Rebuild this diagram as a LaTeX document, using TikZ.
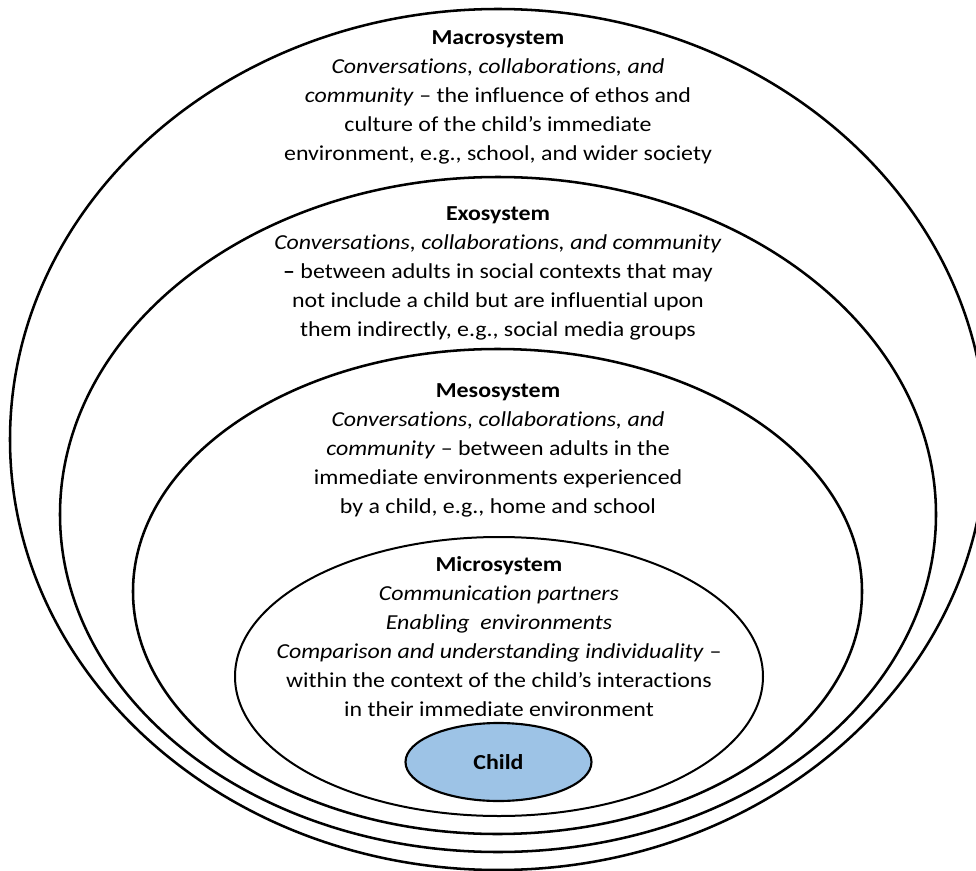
\documentclass[tikz,border=0pt]{standalone}
\usepackage{fontspec}
\setmainfont{Carlito}[FakeStretch=1.12, Ligatures=NoCommon]
\usetikzlibrary{shapes.geometric}
\definecolor{childblue}{RGB}{157,195,230}
\begin{document}
\begin{tikzpicture}[x=0.75pt,y=-0.75pt,
  ring/.style={draw=black, ellipse, line width=1.9pt, inner sep=0pt},
  blocktext/.style={align=center, font=\fontsize{16}{21.75}\selectfont, inner sep=0pt}]
\useasboundingbox (0,0) rectangle (976,871);
\fill[white] (0,0) rectangle (976,871);
\begin{scope}
  \clip (0,0) rectangle (976,871);
  % nested systems, outermost first
  \node[ring, minimum width=732pt, minimum height=645.75pt] (macro) at (498,439.5) {};
  \node[ring, minimum width=657pt, minimum height=506.25pt] (exo) at (498,514.5) {};
  \node[ring, minimum width=546.75pt, minimum height=363.75pt] (meso) at (497.5,591.5) {};
  \node[ring, line width=1.5pt, minimum width=396pt, minimum height=209.25pt] (micro) at (499,676.5) {};
  \node[ring, line width=1.6pt, fill=childblue, minimum width=139.5pt, minimum height=58.5pt,
        font=\fontsize{16}{20}\selectfont] (child) at (498.5,762) {\textbf{Child}};
\end{scope}

\node[blocktext] (macrotxt) at (498,97.5) {\textbf{Macrosystem}\\
  \textit{Conversations, collaborations, and}\\
  \textit{community} – the influence of ethos and\\
  culture of the child’s immediate\\
  environment, e.g., school, and wider society};

\node[blocktext] (exotxt) at (498,273.5) {\textbf{Exosystem}\\
  \textit{Conversations, collaborations, and community}\\
  \textbf{–} between adults in social contexts that may\\
  not include a child but are influential upon\\
  them indirectly, e.g., social media groups};

\node[blocktext] (mesotxt) at (498,450.5) {\textbf{Mesosystem}\\
  \textit{Conversations, collaborations, and}\\
  \textit{community} – between adults in the\\
  immediate environments experienced\\
  by a child, e.g., home and school};

\node[blocktext] (microtxt) at (499,637) {\textbf{Microsystem}\\
  \textit{Communication partners}\\
  \textit{Enabling~~environments}\\
  \textit{Comparison and understanding individuality} –\\
  within the context of the child’s interactions\\
  in their immediate environment};
\end{tikzpicture}
\end{document}
